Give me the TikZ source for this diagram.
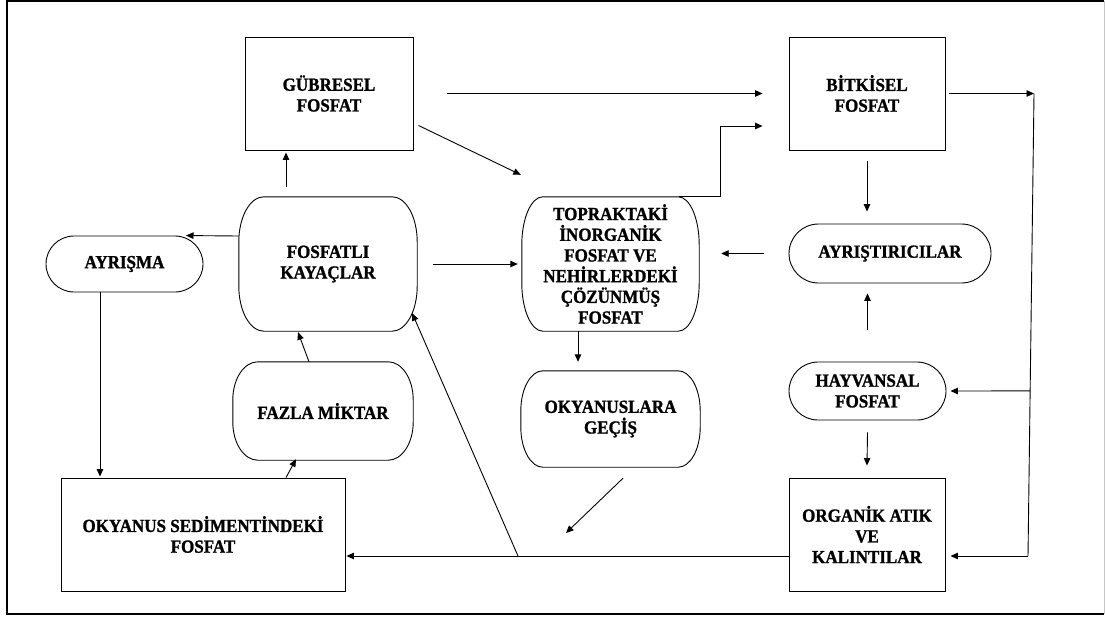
\documentclass[tikz,border=0pt]{standalone}
\usepackage{fontspec}
\setmainfont{Liberation Serif}[FakeStretch=0.92, BoldFeatures={FakeBold=1.2}]
\usetikzlibrary{arrows.meta,shapes.misc,calc}

\tikzset{
  dims/.style 2 args={minimum width=#1pt, minimum height=#2pt},
  txt/.style={font=\bfseries\fontsize{18.5}{20.7}\selectfont, align=center, inner sep=0pt, text=black},
  plainbox/.style={txt, draw, line width=0.9pt, rectangle},
  pill/.style={txt, draw, line width=0.9pt, rounded rectangle},
  softnode/.style={txt, rectangle},
  outline/.style={draw, line width=0.9pt},
  flow/.style={line width=0.9pt, -{Triangle[length=7.5pt,width=6.5pt]}},
  link/.style={line width=0.9pt},
  frame/.style={line width=1.6pt}
}

% outline with elliptical corners: node name, x radius, y radius (pt)
\newcommand\softoutline[3]{%
  \draw[outline]
    ([xshift=#2pt]#1.north west) -- ([xshift=-#2pt]#1.north east)
    .. controls ([xshift=-0.448*#2pt]#1.north east) and ([yshift=-0.448*#3pt]#1.north east)
    .. ([yshift=-#3pt]#1.north east) -- ([yshift=#3pt]#1.south east)
    .. controls ([yshift=0.448*#3pt]#1.south east) and ([xshift=-0.448*#2pt]#1.south east)
    .. ([xshift=-#2pt]#1.south east) -- ([xshift=#2pt]#1.south west)
    .. controls ([xshift=0.448*#2pt]#1.south west) and ([yshift=0.448*#3pt]#1.south west)
    .. ([yshift=#3pt]#1.south west) -- ([yshift=-#3pt]#1.north west)
    .. controls ([yshift=-0.448*#3pt]#1.north west) and ([xshift=0.448*#2pt]#1.north west)
    .. cycle;%
}

\begin{document}
\begin{tikzpicture}[x=1pt, y=-1pt]
  \useasboundingbox (0,0) rectangle (1105,616);

  % outer frame
  \draw[frame] (1104,1) -- (7,1) -- (7,614) -- (1104,614);
  \draw[gray!45, line width=1pt] (1104,1) -- (1104,614);

  % rectangular stores
  \node[plainbox, dims={168}{113}] (gub) at (329,93.5) {GÜBRESEL\\FOSFAT};
  \node[plainbox, dims={156}{113}] (bit) at (867,93.5) {BİTKİSEL\\FOSFAT};
  \node[plainbox, dims={156}{113}] (org) at (867,534.5) {ORGANİK ATIK\\VE\\KALINTILAR};
  \node[plainbox, dims={284}{113}] (oky) at (203,534.5) {OKYANUS SEDİMENTİNDEKİ\\FOSFAT};

  % pill-shaped processes
  \node[pill, dims={157}{56}] (ayr) at (124.5,264) {AYRIŞMA};
  \node[pill, dims={202}{59}] (ayt) at (890,253.5) {AYRIŞTIRICILAR};
  \node[pill, dims={157}{58}] (hay) at (867.5,391) {HAYVANSAL\\FOSFAT};

  % soft-cornered pools
  \node[softnode, dims={178}{134}] (fos) at (328,264) {FOSFATLI\\KAYAÇLAR};
  \node[softnode, dims={180}{98}] (faz) at (323,411) {FAZLA MİKTAR};
  \node[softnode, dims={177}{134}] (top) at (610.5,264)
    {TOPRAKTAKİ\\İNORGANİK\\FOSFAT VE\\NEHİRLERDEKİ\\ÇÖZÜNMÜŞ\\FOSFAT};
  \node[softnode, dims={179}{96}] (oce) at (610.5,419) {OKYANUSLARA\\GEÇİŞ};
  \softoutline{fos}{25}{45}
  \softoutline{faz}{25}{38}
  \softoutline{top}{21}{48}
  \softoutline{oce}{22}{40}

  % free ends and bends
  \coordinate (rtop) at (1034,93.5);
  \coordinate (rbot) at (1028,556);
  \coordinate (drop) at (566,533);
  \coordinate (junc) at (518,556);

  % fertiliser and plant uptake
  \draw[flow] ([xshift=34pt]gub.east) -- ([xshift=-26pt]bit.west);
  \draw[flow] ([shift={(5pt,25pt)}]gub.south east) -- ([shift={(-1pt,22pt)}]top.north west);
  \draw[flow] ([xshift=-20pt]top.north east) -| ([shift={(-68pt,-32.5pt)}]bit.west)
    -- ([shift={(-26pt,-32.5pt)}]bit.west);

  % right-hand return line
  \draw[flow] ([xshift=4pt]bit.east) -- (rtop);
  \draw[link] (rtop) -- (rbot);
  \draw[flow] ($(rtop)!0.643!(rbot)$) -- ([xshift=4pt]hay.east);
  \draw[flow] (rbot) -- ([shift={(5pt,-21.5pt)}]org.east);

  % decomposition chain
  \draw[flow] ([yshift=-11pt]bit.south) -- ([yshift=12pt]ayt.north -| bit.south);
  \draw[flow] ([xshift=-25pt]ayt.west) -- ([xshift=22pt]ayt.west -| top.east);
  \draw[flow] ([yshift=32pt]hay.north) -- ([yshift=-10pt]ayt.south -| hay.north);
  \draw[flow] ([yshift=-12pt]hay.south) -- ([yshift=12pt]org.north);

  % soil to ocean
  \draw[flow] ([xshift=-32.5pt]top.south) -- ([shift={(-32.5pt,9pt)}]oce.north);
  \draw[flow] ([shift={(12.5pt,-11pt)}]oce.south) -- (drop);
  \draw[flow] ([yshift=-21.5pt]org.west) -- ([shift={(1pt,-21.5pt)}]oky.east);
  \draw[flow] (junc) -- ([shift={(-5pt,18pt)}]fos.south east);

  % rock cycle
  \draw[flow] ([shift={(-42pt,10pt)}]fos.north) -- ([shift={(-43pt,-2pt)}]gub.south);
  \draw[flow] ([yshift=28pt]fos.west) -- ([xshift=61.5pt]ayr.north);
  \draw[flow] ([xshift=16pt]fos.east) -- ([xshift=-4pt]top.west);
  \draw[flow] ([xshift=-24.5pt]ayr.south) -- ([shift={(-103pt,1pt)}]oky.north);
  \draw[flow] ([xshift=83pt]oky.north) -- ([shift={(-27pt,1pt)}]faz.south);
  \draw[flow] ([xshift=-14pt]faz.north) -- ([shift={(-30pt,-1pt)}]fos.south);
\end{tikzpicture}
\end{document}
